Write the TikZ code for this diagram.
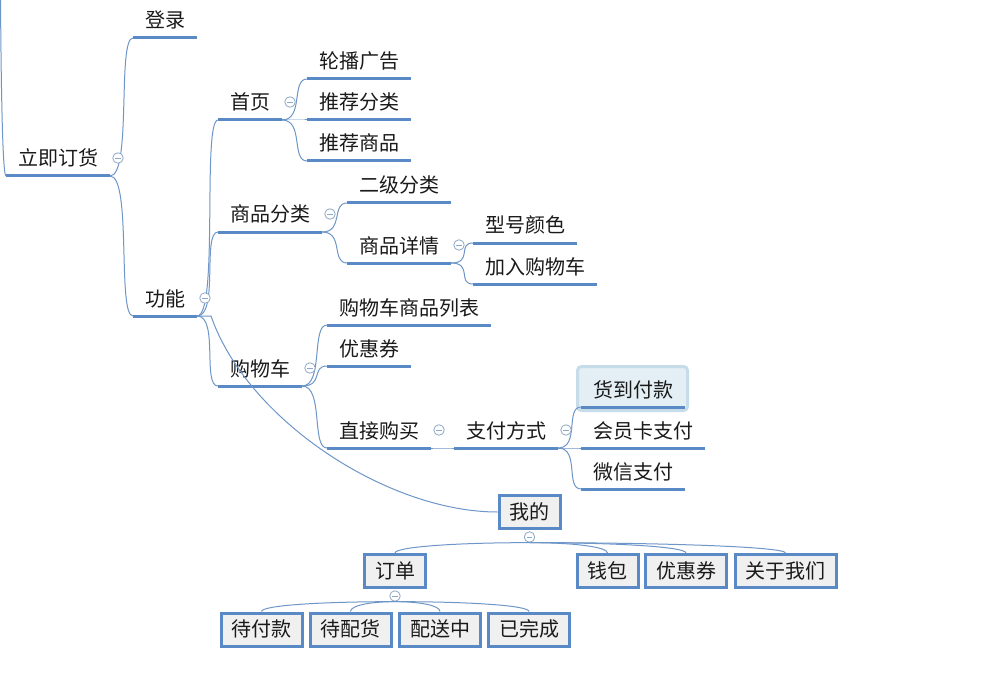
\documentclass[tikz,border=0pt]{standalone}
\usepackage{fontspec}
\setmainfont{Noto Sans CJK SC}
\usetikzlibrary{calc}
\definecolor{ulc}{HTML}{5A8AC6}
\definecolor{lnc}{HTML}{6E96C8}
\definecolor{boxfill}{HTML}{F0F0F0}
\definecolor{colc}{HTML}{8FA8C8}
\definecolor{selfill}{HTML}{E3EFF5}
\definecolor{seldraw}{HTML}{C6DCE9}
\definecolor{txt}{HTML}{1A1A1A}
\newcommand\mmlink[2]{\draw[conn] (#1.south east) .. controls +(22,0) and +(-16,0) .. (#2.south west);}
\newcommand\mmfan[3]{\draw[conn] (#1.south) .. controls +(#3,0) and +(0,-6) .. (#2.north);}
\begin{document}
\begin{tikzpicture}[x=1pt,y=-1pt,
  ul/.style={draw=ulc,line width=3pt},
  conn/.style={draw=lnc,line width=1pt},
  topic/.style={anchor=south west,inner xsep=12pt,inner ysep=6pt,outer sep=0pt,
    text height=15pt,text depth=4pt,text=txt,font=\fontsize{20pt}{24pt}\selectfont,
    append after command={(\tikzlastnode.south west) edge[ul] (\tikzlastnode.south east)}},
  mbox/.style={draw=ulc,line width=3pt,fill=boxfill,inner xsep=10.5pt,inner ysep=0pt,
    minimum height=33pt,text height=17pt,text depth=3pt,text=txt,font=\fontsize{20pt}{24pt}\selectfont},
  coll/.style={circle,draw=colc,line width=0.8pt,minimum size=10.5pt,inner sep=0pt,fill=white,
    path picture={\draw[colc,line width=0.8pt] ([xshift=-2.6pt]path picture bounding box.center) -- ([xshift=2.6pt]path picture bounding box.center);}},
  sel/.style={draw=seldraw,fill=selfill,line width=3pt,rounded corners=4pt}
]
\fill[white] (0,0) rectangle (1006,687);
\useasboundingbox (0,0) rectangle (1006,687);

% highlight of the selected topic
\draw[sel] (577.5,366.5) rectangle (687.5,410.5);

% topics
\node[topic] (root) at (6,176) {立即订货};
\node[topic] (dl) at (133,38) {登录};
\node[topic] (gn) at (133,316) {功能};
\node[topic] (sy) at (218,120) {首页};
\node[topic] (lb) at (307,79) {轮播广告};
\node[topic] (tf) at (307,120) {推荐分类};
\node[topic] (ts) at (307,161) {推荐商品};
\node[topic] (fl) at (218,232) {商品分类};
\node[topic] (ej) at (347,203) {二级分类};
\node[topic] (xq) at (347,263) {商品详情};
\node[topic] (xh) at (473,243) {型号颜色};
\node[topic] (jr) at (473,284) {加入购物车};
\node[topic] (gw) at (218,386) {购物车};
\node[topic] (gl) at (327,325) {购物车商品列表};
\node[topic] (yh) at (327,366) {优惠券};
\node[topic] (zj) at (327,448) {直接购买};
\node[topic] (zf) at (454,448) {支付方式};
\node[topic] (hd) at (581,407) {货到付款};
\node[topic] (hy) at (581,448) {会员卡支付};
\node[topic] (wx) at (581,489) {微信支付};

% boxes
\node[mbox] (wd) at (529.5,512) {我的};
\node[mbox] (dd) at (395,571) {订单};
\node[mbox] (qb) at (607.5,571) {钱包};
\node[mbox] (yq) at (686,571) {优惠券};
\node[mbox] (gy) at (785.5,571) {关于我们};
\node[mbox] (df) at (261.5,629.5) {待付款};
\node[mbox] (dp) at (350.5,629.5) {待配货};
\node[mbox] (ps) at (440,629.5) {配送中};
\node[mbox] (wc) at (529,629.5) {已完成};

% incoming line of the root
\draw[conn] (root.south west) .. controls +(-4,-1) and (1,60) .. (0.5,0);

% bracket links
\mmlink{root}{dl}
\mmlink{root}{gn}
\mmlink{gn}{sy}
\mmlink{gn}{fl}
\mmlink{gn}{gw}
\mmlink{sy}{lb}
\mmlink{sy}{tf}
\mmlink{sy}{ts}
\mmlink{fl}{ej}
\mmlink{fl}{xq}
\mmlink{xq}{xh}
\mmlink{xq}{jr}
\mmlink{gw}{gl}
\mmlink{gw}{yh}
\mmlink{gw}{zj}
\mmlink{zj}{zf}
\mmlink{zf}{hd}
\mmlink{zf}{hy}
\mmlink{zf}{wx}
\draw[conn] (gn.south east) -- ++(14,0) .. controls ($(gn.south east)+(50,104)$) and ($(wd.west)+(-110,0)$) .. (wd.west);

% collapse markers
\node[coll] (c-root) at ($(root.south east)+(8,-18)$) {};
\node[coll] (c-gn) at ($(gn.south east)+(8,-18)$) {};
\node[coll] (c-sy) at ($(sy.south east)+(8,-18)$) {};
\node[coll] (c-fl) at ($(fl.south east)+(8,-18)$) {};
\node[coll] (c-xq) at ($(xq.south east)+(8,-18)$) {};
\node[coll] (c-gw) at ($(gw.south east)+(8,-18)$) {};
\node[coll] (c-zj) at ($(zj.south east)+(8,-18)$) {};
\node[coll] (c-zf) at ($(zf.south east)+(8,-18)$) {};
\node[coll] (c-wd) at ($(wd.south)+(0,7)$) {};
\node[coll] (c-dd) at ($(dd.south)+(0,7)$) {};

% org-chart links
\mmfan{c-wd}{dd}{-75}
\mmfan{c-wd}{qb}{45}
\mmfan{c-wd}{yq}{90}
\mmfan{c-wd}{gy}{140}
\mmfan{c-dd}{df}{-75}
\mmfan{c-dd}{dp}{-25}
\mmfan{c-dd}{ps}{25}
\mmfan{c-dd}{wc}{75}
\end{tikzpicture}
\end{document}
